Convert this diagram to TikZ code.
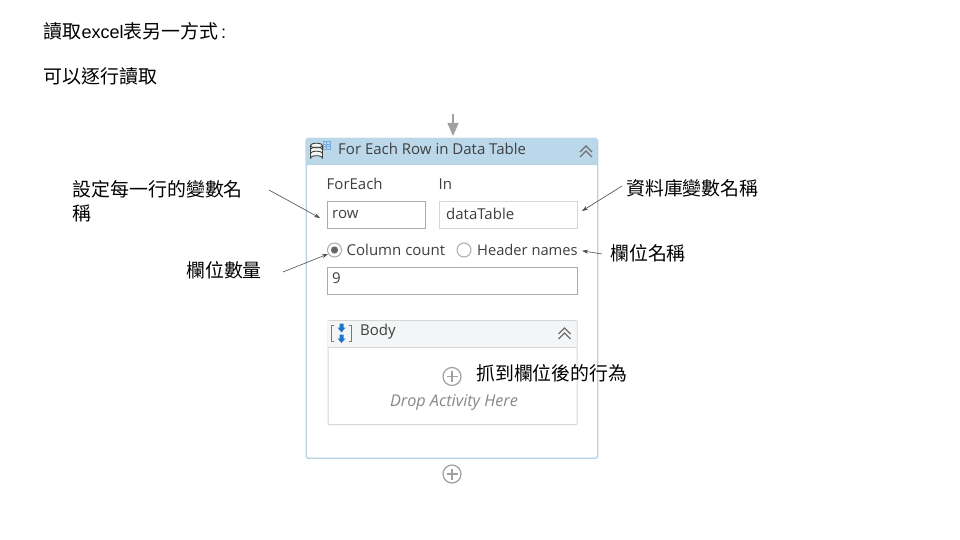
\documentclass[tikz,border=0pt]{standalone}
\usepackage{fontspec}
\setmainfont{Liberation Sans}
\newfontfamily\cjk{Noto Sans CJK TC}
\newfontfamily\ui{Open Sans}
\usetikzlibrary{arrows.meta}
\definecolor{panelblue}{HTML}{BBD8EB}
\definecolor{panelline}{HTML}{B4D2E6}
\definecolor{fieldline}{HTML}{ABABAB}
\definecolor{uitext}{HTML}{3F3F3F}
\definecolor{plusgrey}{HTML}{A0A0A0}
\definecolor{bodyhead}{HTML}{F3F5F6}
\definecolor{bodyline}{HTML}{D6D6D6}
\definecolor{iconblue}{HTML}{1F74C8}
\tikzset{
  x=1pt,y=-1pt,
  note/.style={font=\cjk\fontsize{18.9}{24}\selectfont,text=black,anchor=west,inner sep=0pt,align=left},
  title/.style={font=\fontsize{18}{20}\selectfont,text=black,anchor=west,inner sep=0pt},
  uilabel/.style={font=\ui\fontsize{15}{17}\selectfont,text=uitext,anchor=west,inner sep=0pt},
  field/.style={draw=fieldline,line width=1pt,fill=white,rectangle,inner sep=0pt},
  callout/.style={draw=black!70,line width=.6pt,-{Stealth[length=6pt,width=4pt]}},
  plusmark/.style={circle,draw=plusgrey,line width=1.2pt,minimum size=18pt,inner sep=0pt},
  chev/.style={draw=uitext!75,line width=1.1pt},
}
\newcommand{\plussign}[1]{\draw[plusgrey,line width=1.2pt] (#1)+(-5.5,0) -- +(5.5,0) (#1)+(0,-5.5) -- +(0,5.5);}
\newcommand{\dblchev}[2]{\draw[chev] (#1-6,#2+1) -- (#1,#2-5) -- (#1+6,#2+1) (#1-6,#2+6) -- (#1,#2) -- (#1+6,#2+6);}
\begin{document}
\begin{tikzpicture}
\useasboundingbox (0,0) rectangle (960,540);
\fill[white] (0,0) rectangle (960,540);
% titles
\node[title] (t1) at (43.5,31.5) {{\cjk\fontsize{18.9}{20}\selectfont 讀取}excel{\cjk\fontsize{18.9}{20}\selectfont 表另一方式}\hspace{3pt}:};
\node[title] (t2) at (43.5,76.5) {\cjk\fontsize{18.9}{20}\selectfont 可以逐行讀取};
% main panel
\node[draw=panelline,line width=1.3pt,rounded corners=1.5pt,minimum width=291.5pt,minimum height=319.5pt,inner sep=0pt,anchor=north west] (panel) at (305.5,138) {};
\fill[panelblue,rounded corners=1.5pt] (305.5,138) rectangle (597,165);
\draw[panelline,line width=1pt] (305.5,165) -- (597,165);
% db icon
\draw[uitext,line width=.9pt,fill=bodyhead] (310.5,145.5) arc[x radius=6,y radius=2.3,start angle=180,end angle=-180] (310.5,145.5) -- (310.5,158) arc[x radius=6,y radius=2.3,start angle=180,end angle=360] -- (322.5,145.5);
\draw[uitext,line width=.9pt] (310.5,149.5) arc[x radius=6,y radius=2.3,start angle=180,end angle=360] (310.5,153.5) arc[x radius=6,y radius=2.3,start angle=180,end angle=360];
\draw[iconblue!60,line width=.7pt] (323,141) rectangle (330,149) (323,144) -- (330,144) (323,146.5) -- (330,146.5) (326.5,141) -- (326.5,149);
\node[uilabel] (head) at (338,149) {For Each Row in Data Table};
\dblchev{586}{151}
% fields
\node[uilabel] (lfor) at (326.5,184) {ForEach};
\node[uilabel] (lin) at (438.5,184) {In};
\node[field,minimum width=98.5pt,minimum height=27pt,anchor=north west] (row) at (326.5,200.7) {};
\node[uilabel] at (332,214) {row};
\node[field,draw=bodyline,minimum width=138pt,minimum height=27pt,anchor=north west] (dt) at (438.5,200.7) {};
\node[uilabel] at (446,214) {dataTable};
% radios
\node[circle,draw=fieldline,line width=1pt,minimum size=14pt,inner sep=0pt] (radioa) at (334.5,250) {};
\fill[uitext!80] (radioa) circle (3.6);
\node[uilabel] (ca) at (346.5,250) {Column count};
\node[circle,draw=fieldline,line width=1pt,minimum size=14pt,inner sep=0pt] (radiob) at (464,250) {};
\node[uilabel,font=\ui\fontsize{14.7}{17}\selectfont] (hn) at (477,250) {Header names};
\node[field,minimum width=250pt,minimum height=27pt,anchor=north west] (cnt) at (326.5,266.7) {};
\node[uilabel] at (332,278) {9};
% body
\node[draw=bodyline,fill=white,line width=1pt,rounded corners=1pt,minimum width=249pt,minimum height=104pt,inner sep=0pt,anchor=north west] (body) at (327.7,320) {};
\fill[bodyhead] (328.2,320.5) rectangle (576.2,347);
\draw[bodyline,line width=1pt] (327.7,347) -- (576.7,347);
\draw[uitext!70,line width=.9pt] (334,325) -- (331.5,325) -- (331.5,341) -- (334,341) (349,325) -- (351.5,325) -- (351.5,341) -- (349,341);
\fill[iconblue] (341.5,332.5) -- (345.5,327.5) -- (343.5,327.5) -- (343.5,323.5) -- (339.5,323.5) -- (339.5,327.5) -- (337.5,327.5) -- cycle;
\fill[iconblue] (341.5,343) -- (345.5,338.5) -- (343.5,338.5) -- (343.5,334.5) -- (339.5,334.5) -- (339.5,338.5) -- (337.5,338.5) -- cycle;
\node[uilabel] (bd) at (360,332) {Body};
\dblchev{564.5}{333}
\node[plusmark] (plusa) at (452,376.5) {};
\plussign{plusa}
\node[font=\ui\itshape\fontsize{16.2}{18}\selectfont,text=plusgrey!85!black,inner sep=0pt] (drop) at (454,402.5) {Drop Activity Here};
% outer plus
\node[plusmark] (plusb) at (452,474) {};
\plussign{plusb}
% incoming arrow
\coordinate (intop) at (453,114);
\coordinate (inend) at (453,136);
\draw[draw=plusgrey,line width=1.3pt,-{Triangle[length=13pt,width=11pt]}] (intop) -- (inend);
% notes
\node[note,anchor=north west] (n1) at (72.5,180) {設定每一行的變數名\\稱};
\node[note] (n2) at (186,270) {欄位數量};
\node[note] (n3) at (626,188) {資料庫變數名稱};
\node[note] (n4) at (610,253) {欄位名稱};
\node[note] (n5) at (476,373) {抓到欄位後的行為};
% callouts
\coordinate (c1s) at (269,190);
\coordinate (c1e) at (320,218);
\coordinate (c2s) at (283,272);
\coordinate (c2e) at (328,254);
\coordinate (c3s) at (622,186);
\coordinate (c3e) at (582,211);
\coordinate (c4s) at (602,254);
\coordinate (c4e) at (582,250.8);
\draw[callout] (c1s) -- (c1e);
\draw[callout] (c2s) -- (c2e);
\draw[callout] (c3s) -- (c3e);
\draw[callout] (c4s) -- (c4e);
\end{tikzpicture}
\end{document}
